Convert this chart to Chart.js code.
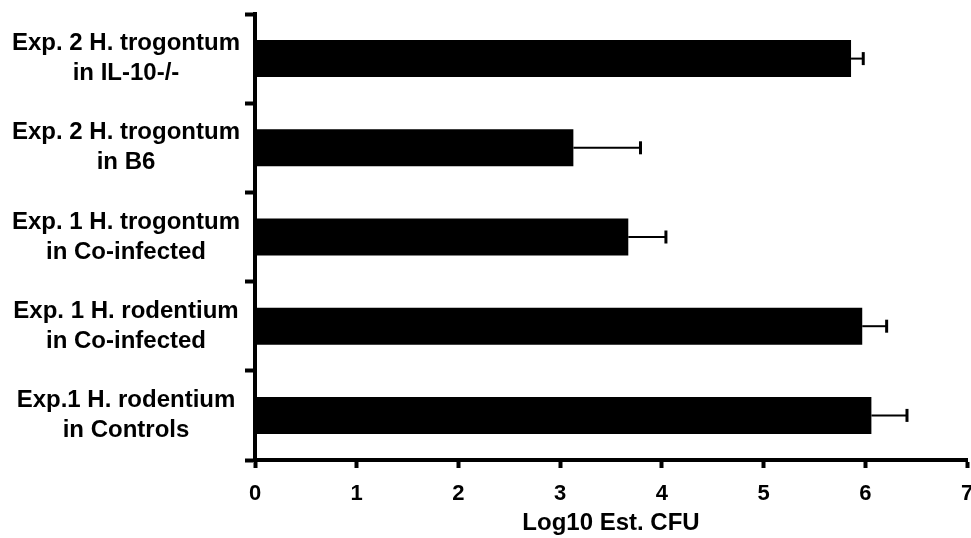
<!DOCTYPE html>
<html>
<head>
<meta charset="utf-8">
<script src="https://cdn.jsdelivr.net/npm/chart.js@4/dist/chart.umd.min.js"></script>
<style>
 html,body{margin:0;padding:0;background:#fff;overflow:hidden;}
 #wrap{width:975px;height:538px;}
</style>
</head>
<body>
<div id="wrap"><canvas id="cfuChart"></canvas></div>
<script>
/* DATA */
const groups=[
 ["Exp. 2 H. trogontum","in IL-10-/-"],
 ["Exp. 2 H. trogontum","in B6"],
 ["Exp. 1 H. trogontum","in Co-infected"],
 ["Exp. 1 H. rodentium","in Co-infected"],
 ["Exp.1 H. rodentium","in Controls"]
];
const logCfu=[5.86,3.13,3.67,5.97,6.06];
const sem=[0.12,0.66,0.37,0.24,0.35];
const xTicks=[0,1,2,3,4,5,6,7];

const FONT="'Liberation Sans', Arial, Helvetica, sans-serif";

/* ERROR BARS (upper side only) */
const errBars={
 id:"errBars",
 afterDatasetsDraw(c){
  const ctx=c.ctx,xs=c.scales.x,ys=c.scales.y;
  ctx.save();
  ctx.strokeStyle="#000";
  logCfu.forEach((v,i)=>{
   const yy=ys.getPixelForValue(i);
   const x0=xs.getPixelForValue(v),x1=xs.getPixelForValue(v+sem[i]);
   ctx.lineWidth=2;
   ctx.beginPath();ctx.moveTo(x0,yy);ctx.lineTo(x1,yy);ctx.stroke();
   ctx.lineWidth=3;
   ctx.beginPath();ctx.moveTo(x1,yy-6.5);ctx.lineTo(x1,yy+6.5);ctx.stroke();
  });
  ctx.restore();
 }
};

/* CHART */
new Chart(cfuChart,{
 type:"bar",
 data:{
  labels:groups,
  datasets:[{data:logCfu,backgroundColor:"#000",borderWidth:0,barPercentage:0.415,categoryPercentage:1}]
 },
 options:{
  indexAxis:"y",
  responsive:true,
  maintainAspectRatio:false,
  animation:false,
  layout:{padding:{top:14,right:8,left:0,bottom:0}},
  plugins:{legend:{display:false},tooltip:{enabled:false}},
  scales:{
   x:{
    min:0,max:7,
    afterBuildTicks:s=>{s.ticks=xTicks.map(v=>({value:v}));},
    afterFit:s=>{s.height=78;s.paddingLeft=0;s.paddingRight=0;},
    border:{display:true,color:"#000",width:4},
    grid:{drawOnChartArea:false,drawTicks:true,tickLength:8,tickWidth:4,tickColor:"#000"},
    ticks:{color:"#000",padding:13,font:{family:FONT,size:22,weight:"bold"}},
    title:{display:true,text:"Log10 Est. CFU",color:"#000",padding:{top:2,bottom:0},font:{family:FONT,size:24,weight:"bold"}}
   },
   y:{
    afterFit:s=>{s.width=255;s.paddingTop=0;s.paddingBottom=0;},
    border:{display:true,color:"#000",width:4},
    grid:{drawOnChartArea:false,drawTicks:true,tickLength:10,tickWidth:4,tickColor:"#000",offset:true},
    ticks:{color:"#000",padding:5,crossAlign:"center",font:{family:FONT,size:24,weight:"bold",lineHeight:1.25}}
   }
  }
 },
 plugins:[errBars]
});
</script>
</body>
</html>
